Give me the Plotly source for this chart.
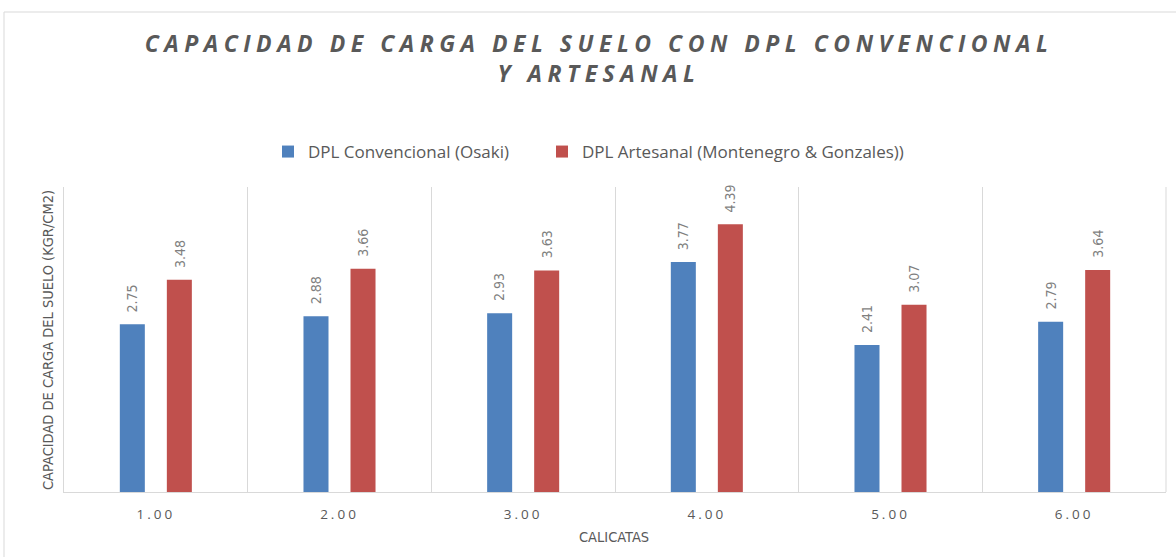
import plotly.graph_objects as go

# Datos
calicatas = ["1.00", "2.00", "3.00", "4.00", "5.00", "6.00"]
convencional = [2.75, 2.88, 2.93, 3.77, 2.41, 2.79]
artesanal = [3.48, 3.66, 3.63, 4.39, 3.07, 3.64]
serie_conv = "DPL Convencional (Osaki)"
serie_art = "DPL Artesanal (Montenegro & Gonzales))"
titulo = "CAPACIDAD DE CARGA DEL SUELO CON DPL CONVENCIONAL<br>Y ARTESANAL"
titulo_y = "CAPACIDAD DE CARGA DEL SUELO (KGR/CM2)"
titulo_x = "CALICATAS"

AZUL = "#4F81BD"
ROJO = "#C0504D"
GRIS_TXT = "#595959"
GRIS_ETQ = "#7F7F7F"
NARROW = "Liberation Sans Narrow, DejaVu Sans Condensed, Arial Narrow, sans-serif"

W, H = 1176, 557
L, R, T, B = 64, 10, 187, 65
pw, ph = W - L - R, H - T - B
BARGAP, GROUPGAP = 0.488, 0.468

def px_x(px):
    return (px - L) / pw

def px_y(py):
    return (H - B - py) / ph

fig = go.Figure()
for nombre, vals, color, leyenda in [(serie_conv, convencional, AZUL, "legend"),
                                     (serie_art, artesanal, ROJO, "legend2")]:
    fig.add_trace(go.Bar(
        x=calicatas, y=vals, name=nombre, legend=leyenda, showlegend=True,
        marker=dict(color=color, line=dict(width=0)),
    ))

# Etiquetas de valor sobre cada barra (rotadas); x por índice de categoría
ancho_cat = pw / len(calicatas)
medio_slot = ancho_cat * (1 - BARGAP) / 4
anotaciones = []
for vals, desplaz in [(convencional, -medio_slot), (artesanal, medio_slot)]:
    for i, v in enumerate(vals):
        anotaciones.append(dict(
            x=i, y=v, xref="x", yref="y", text=f"{v:.2f}", textangle=-90,
            showarrow=False, xanchor="center", yanchor="bottom",
            xshift=desplaz, yshift=10,
            font=dict(family=NARROW, size=14, color=GRIS_ETQ),
        ))

anotaciones += [
    dict(text=titulo_y, textangle=-90, x=px_x(48), y=px_y(340),
         xref="paper", yref="paper", showarrow=False,
         xanchor="center", yanchor="middle",
         font=dict(family=NARROW, size=14.5, color=GRIS_TXT)),
    dict(text=titulo_x, x=px_x(614), y=px_y(537),
         xref="paper", yref="paper", showarrow=False,
         xanchor="center", yanchor="middle",
         font=dict(family=NARROW, size=14.5, color=GRIS_TXT)),
]

fuente_leyenda = dict(family="Open Sans, sans-serif", size=17, color=GRIS_TXT)

fig.update_layout(
    width=W, height=H,
    margin=dict(l=L, r=R, t=T, b=B),
    paper_bgcolor="white", plot_bgcolor="white",
    showlegend=True,
    barmode="group", bargap=BARGAP, bargroupgap=GROUPGAP,
    title=dict(
        text=f'<span style="letter-spacing:5.5px">{titulo}</span>',
        x=px_x(599), xref="paper", xanchor="center",
        y=1 - 52 / H, yref="container", yanchor="middle",
        font=dict(family="Open Sans, sans-serif", size=23, color=GRIS_TXT,
                  weight="bold", style="italic"),
    ),
    legend=dict(
        orientation="h", x=px_x(268), xanchor="left",
        y=px_y(152), yanchor="middle",
        font=fuente_leyenda, itemwidth=30, visible=True,
    ),
    legend2=dict(
        orientation="h", x=px_x(542), xanchor="left",
        y=px_y(152), yanchor="middle",
        font=fuente_leyenda, itemwidth=30, visible=True,
    ),
    xaxis=dict(
        type="category", tickson="boundaries",
        showgrid=True, gridcolor="#D9D9D9", gridwidth=1,
        showline=True, linecolor="#D9D9D9", linewidth=1,
        ticks="", ticklabelstandoff=10,
        tickmode="array", tickvals=calicatas,
        ticktext=[f'<span style="letter-spacing:3px">{c}</span>' for c in calicatas],
        tickfont=dict(family="Open Sans, sans-serif", size=13.5, color=GRIS_TXT),
        range=[-0.5, 5.5],
    ),
    yaxis=dict(
        range=[0, 5], showgrid=False, showticklabels=False,
        showline=True, linecolor="#D9D9D9", linewidth=1, zeroline=False,
    ),
    annotations=anotaciones,
    shapes=[
        dict(type="rect", xref="paper", yref="paper",
             x0=px_x(4), x1=px_x(1190), y0=px_y(570), y1=px_y(12),
             line=dict(color="#D9D9D9", width=1), fillcolor="rgba(0,0,0,0)",
             layer="below"),
        dict(type="line", xref="paper", yref="paper",
             x0=1, x1=1, y0=0, y1=1,
             line=dict(color="#D9D9D9", width=1)),
    ],
)

fig.write_html("out.html")
